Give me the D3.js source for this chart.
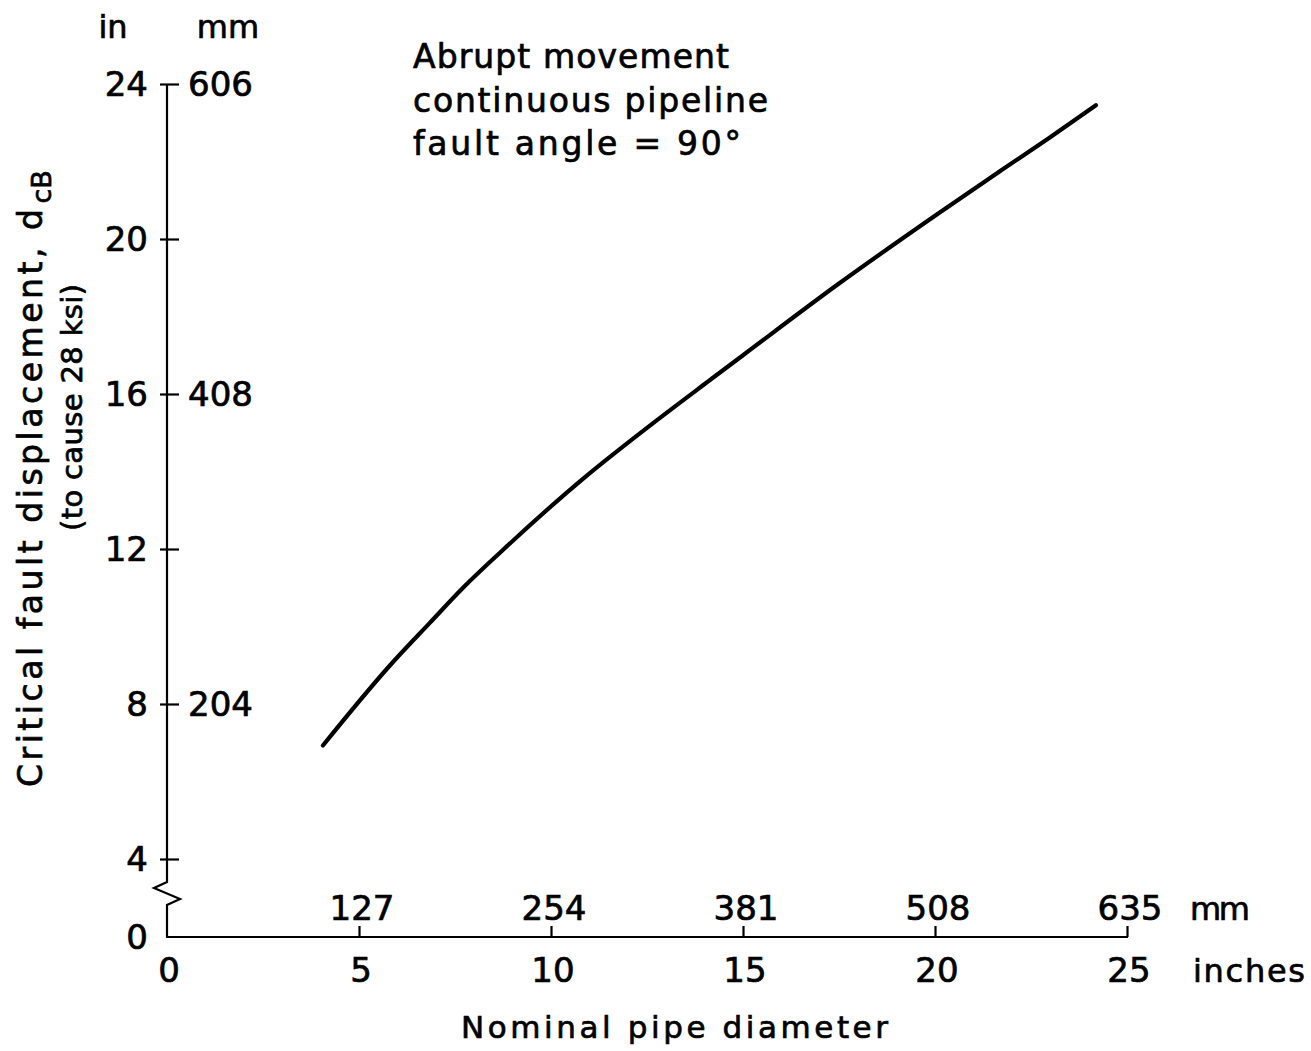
<!DOCTYPE html>
<html>
<head>
<meta charset="utf-8">
<script src="https://cdn.jsdelivr.net/npm/d3@7/dist/d3.min.js"></script>
<style>
  html, body { margin: 0; padding: 0; background: #fff; }
  svg { display: block; }
  text { font-family: "DejaVu Sans", "Liberation Sans", sans-serif; fill: #000; stroke: #000; stroke-width: 0.7px; }
</style>
</head>
<body>
<svg id="chart" width="1311" height="1051"></svg>
<script>
// Critical fault displacement vs nominal pipe diameter (inches)
const diameterIn = [4.06, 5.81, 6.85, 7.71, 8.72, 10.94, 12.66, 14.14, 15.0, 17.5, 20.0, 21.69, 22.99, 24.19];
const displacementIn = [6.93, 9.0, 10.1, 11.0, 11.95, 13.9, 15.25, 16.36, 17.0, 18.85, 20.6, 21.75, 22.62, 23.45];

// Axis ticks and their paired metric labels
const xTicksIn = [0, 5, 10, 15, 20, 25];
const xTicksMm = ["", "127", "254", "381", "508", "635"];
const yTicksIn = [0, 4, 8, 12, 16, 20, 24];
const yTicksMm = [[24, "606"], [16, "408"], [8, "204"]];

const noteLines = ["Abrupt movement", "continuous pipeline", "fault angle = 90\u00B0"];

const svg = d3.select("#chart");

// Scales: the vertical axis is broken between 0 and 4
const x = d3.scaleLinear().domain([0, 25]).range([167, 1127]);
const y = d3.scaleLinear().domain([0, 4, 24]).range([937, 859, 84]);

const ink = "#000";
const axisW = 2.2;

// ---- Vertical axis (inches on the left, millimetres on the right)
const yAxis = d3.axisRight(y)
  .tickValues(yTicksIn)
  .tickSize(12)
  .tickFormat("");
const gy = svg.append("g").attr("transform", `translate(${x(0)},0)`).call(yAxis);
gy.select(".domain").remove();
gy.selectAll(".tick line")
  .attr("x1", -7)
  .attr("stroke", ink)
  .attr("stroke-width", axisW)
  .filter(d => d === 0).remove();

// axis spine with the break symbol
const x0 = x(0);
const spine = [
  [x0, y(24)], [x0, y(4) + 23],
  [x0 - 13, y(4) + 29], [x0 + 13, y(4) + 40],
  [x0, y(4) + 46], [x0, y(0)]
];
svg.append("path")
  .attr("d", d3.line()(spine))
  .attr("fill", "none")
  .attr("stroke", ink)
  .attr("stroke-width", axisW)
  .attr("stroke-linejoin", "miter");

// inch labels
svg.append("g").selectAll("text")
  .data(yTicksIn).join("text")
  .attr("x", x0 - 19)
  .attr("y", d => y(d))
  .attr("dy", "0.36em")
  .attr("text-anchor", "end")
  .attr("font-size", 34)
  .text(d => d);

// millimetre labels
svg.append("g").selectAll("text")
  .data(yTicksMm).join("text")
  .attr("x", x0 + 21)
  .attr("y", d => y(d[0]))
  .attr("dy", "0.36em")
  .attr("text-anchor", "start")
  .attr("font-size", 34)
  .text(d => d[1]);

// unit headers
svg.append("text").attr("x", 113).attr("y", 38).attr("text-anchor", "middle")
  .attr("font-size", 32).text("in");
svg.append("text").attr("x", 228).attr("y", 38).attr("text-anchor", "middle")
  .attr("font-size", 32).text("mm");

// ---- Horizontal axis
const xAxis = d3.axisTop(x)
  .tickValues(xTicksIn.slice(1))
  .tickSize(11)
  .tickSizeOuter(0)
  .tickFormat("");
const gx = svg.append("g").attr("transform", `translate(0,${y(0)})`).call(xAxis);
gx.select(".domain").remove();
gx.selectAll(".tick line").attr("stroke", ink).attr("stroke-width", axisW);
svg.append("line")
  .attr("x1", x0 - 1).attr("x2", x(25) + 1)
  .attr("y1", y(0)).attr("y2", y(0))
  .attr("stroke", ink).attr("stroke-width", axisW);

// inch labels below
svg.append("g").selectAll("text")
  .data(xTicksIn).join("text")
  .attr("x", d => x(d) + 2)
  .attr("y", 982)
  .attr("text-anchor", "middle")
  .attr("font-size", 34)
  .text(d => d);

// millimetre labels above
svg.append("g").selectAll("text")
  .data(xTicksIn.map((d, i) => [d, xTicksMm[i]]).filter(d => d[1] !== "")).join("text")
  .attr("x", d => x(d[0]) + 3)
  .attr("y", 920)
  .attr("text-anchor", "middle")
  .attr("font-size", 34)
  .text(d => d[1]);

svg.append("text").attr("x", 1190).attr("y", 920).attr("font-size", 32)
  .attr("textLength", 60).attr("lengthAdjust", "spacing").text("mm");
svg.append("text").attr("x", 1193).attr("y", 982).attr("font-size", 32)
  .attr("textLength", 112).attr("lengthAdjust", "spacing").text("inches");

// x title
svg.append("text").attr("x", 461).attr("y", 1038).attr("font-size", 31)
  .attr("textLength", 427).attr("lengthAdjust", "spacing")
  .text("Nominal pipe diameter");

// ---- y title (rotated)
const yt = svg.append("text")
  .attr("transform", "translate(42,787) rotate(-90)")
  .attr("font-size", 33);
yt.append("tspan").attr("textLength", 578).attr("lengthAdjust", "spacing")
  .text("Critical fault displacement, d");
yt.append("tspan").attr("font-size", 27).attr("dy", 9).attr("dx", 2).text("cB");

svg.append("text")
  .attr("transform", "translate(82,531) rotate(-90)")
  .attr("font-size", 29)
  .attr("textLength", 247).attr("lengthAdjust", "spacing")
  .text("(to cause 28 ksi)");

// ---- annotation
const noteLen = [316, 355, 328];
svg.append("g").selectAll("text")
  .data(noteLines).join("text")
  .attr("x", 413)
  .attr("y", (d, i) => 68 + i * 43.5)
  .attr("font-size", 33)
  .attr("textLength", (d, i) => noteLen[i])
  .attr("lengthAdjust", "spacing")
  .text(d => d);

// ---- curve
const pts = diameterIn.map((d, i) => [d, displacementIn[i]]);
svg.append("path")
  .datum(pts)
  .attr("d", d3.line().x(d => x(d[0])).y(d => y(d[1])).curve(d3.curveMonotoneX))
  .attr("fill", "none")
  .attr("stroke", ink)
  .attr("stroke-width", 4.2)
  .attr("stroke-linecap", "round");
</script>
</body>
</html>
